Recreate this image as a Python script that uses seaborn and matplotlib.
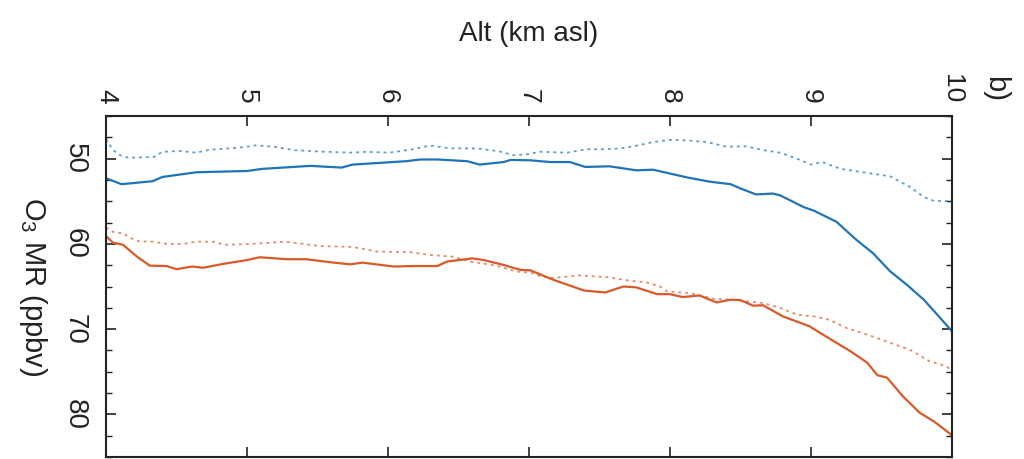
import matplotlib
matplotlib.use("Agg")
import matplotlib.pyplot as plt
from matplotlib.ticker import MultipleLocator
import seaborn as sns
import pandas as pd

# ---- data ----
alt_blue_solid = [4.00, 4.11, 4.33, 4.40, 4.64, 5.00, 5.11, 5.45, 5.67, 5.75, 6.13, 6.23, 6.35,
                  6.56, 6.65, 6.82, 6.87, 7.01, 7.15, 7.29, 7.40, 7.57, 7.76, 7.88, 8.12, 8.28,
                  8.43, 8.50, 8.61, 8.73, 8.78, 8.95, 9.02, 9.13, 9.18, 9.32, 9.44, 9.56, 9.68,
                  9.80, 9.89, 10.00]
o3_blue_solid = [52.3, 53.0, 52.65, 52.15, 51.6, 51.45, 51.2, 50.85, 51.05, 50.7, 50.3, 50.1, 50.1,
                 50.3, 50.7, 50.4, 50.15, 50.2, 50.4, 50.4, 50.98, 50.9, 51.37, 51.3, 52.2, 52.7,
                 53.0, 53.5, 54.2, 54.1, 54.3, 55.7, 56.1, 57.0, 57.4, 59.5, 61.1, 63.2, 64.8,
                 66.55, 68.2, 70.25]

alt_blue_dot = [4.00, 4.05, 4.10, 4.16, 4.34, 4.40, 4.52, 4.64, 4.74, 4.95, 5.06, 5.19, 5.33, 5.49,
                5.73, 5.85, 6.01, 6.16, 6.27, 6.32, 6.44, 6.63, 6.79, 6.89, 6.98, 7.08, 7.27, 7.41,
                7.53, 7.65, 7.74, 7.88, 8.00, 8.12, 8.26, 8.40, 8.54, 8.66, 8.78, 8.90, 9.00, 9.08,
                9.21, 9.37, 9.49, 9.56, 9.70, 9.80, 9.87, 10.00]
o3_blue_dot = [47.7, 49.0, 49.6, 49.9, 49.8, 49.2, 49.1, 49.3, 48.95, 48.7, 48.45, 48.6, 49.0, 49.15,
               49.3, 49.2, 49.3, 48.95, 48.56, 48.5, 48.8, 48.8, 49.15, 49.6, 49.5, 49.2, 49.3, 48.9,
               48.9, 48.8, 48.56, 48.06, 47.8, 47.86, 48.06, 48.6, 48.56, 49.0, 49.3, 50.0, 50.7, 50.4,
               51.2, 51.6, 51.9, 52.07, 53.3, 54.5, 54.95, 55.0]

alt_orange_solid = [4.00, 4.05, 4.12, 4.22, 4.31, 4.43, 4.50, 4.61, 4.69, 4.83, 5.00, 5.09, 5.28,
                    5.42, 5.59, 5.73, 5.82, 6.04, 6.18, 6.35, 6.42, 6.60, 6.68, 6.82, 6.94, 7.01,
                    7.17, 7.39, 7.54, 7.67, 7.76, 7.91, 8.00, 8.09, 8.21, 8.33, 8.43, 8.50, 8.59,
                    8.66, 8.80, 8.99, 9.11, 9.28, 9.40, 9.47, 9.54, 9.65, 9.77, 9.87, 10.00]
o3_orange_solid = [59.1, 59.86, 60.1, 61.5, 62.55, 62.6, 62.97, 62.66, 62.8, 62.35, 61.9, 61.57, 61.8,
                   61.8, 62.15, 62.4, 62.2, 62.66, 62.6, 62.6, 62.07, 61.7, 61.9, 62.47, 63.05, 63.1,
                   64.2, 65.47, 65.7, 65.0, 65.1, 65.9, 65.9, 66.24, 66.05, 66.87, 66.55, 66.6, 67.25,
                   67.2, 68.5, 69.67, 70.9, 72.6, 73.95, 75.4, 75.7, 77.85, 79.8, 80.8, 82.45]

alt_orange_dot = [4.00, 4.05, 4.12, 4.18, 4.24, 4.31, 4.43, 4.55, 4.64, 4.76, 4.84, 4.97, 5.14, 5.26,
                  5.42, 5.51, 5.75, 5.92, 6.16, 6.30, 6.46, 6.58, 6.77, 6.91, 7.01, 7.08, 7.17, 7.36,
                  7.55, 7.72, 7.83, 7.93, 7.98, 8.14, 8.31, 8.43, 8.66, 8.78, 8.90, 9.02, 9.13, 9.25,
                  9.42, 9.56, 9.70, 9.84, 9.96, 10.00]
o3_orange_dot = [58.06, 58.6, 58.76, 59.35, 59.74, 59.7, 60.0, 60.0, 59.74, 59.74, 60.1, 60.05, 59.9,
                 59.74, 60.05, 60.25, 60.36, 60.9, 60.98, 61.3, 61.5, 62.07, 62.55, 63.25, 63.36, 63.8,
                 64.0, 63.7, 63.9, 64.33, 64.5, 65.0, 65.58, 65.77, 66.44, 66.55, 66.94, 67.5, 68.3,
                 68.5, 68.9, 69.86, 70.76, 71.6, 72.4, 73.76, 74.35, 74.9]

x_ticks = [4, 5, 6, 7, 8, 9, 10]
y_ticks = [50, 60, 70, 80]
x_label = "Alt (km asl)"
y_label = r"O$_3$ MR (ppbv)"
panel_label = "b)"

BLUE = "#1f74b8"
ORANGE = "#d9592a"

sns.set_theme(style="white")
plt.rcParams["font.family"] = ["Liberation Sans", "DejaVu Sans"]
plt.rcParams["mathtext.fontset"] = "custom"
plt.rcParams["mathtext.rm"] = "Liberation Sans"
plt.rcParams["mathtext.it"] = "Liberation Sans"

fig = plt.figure(figsize=(10.24, 4.59), dpi=100)
ax = fig.add_axes([106 / 1024, 1 - 457 / 459, 846 / 1024, (457 - 116) / 459])

def df(a, v):
    return pd.DataFrame({"alt": a, "o3": v})

sns.lineplot(data=df(alt_blue_dot, o3_blue_dot), x="alt", y="o3", ax=ax, color=BLUE,
             linewidth=1.3, alpha=0.7, sort=False)
sns.lineplot(data=df(alt_orange_dot, o3_orange_dot), x="alt", y="o3", ax=ax, color=ORANGE,
             linewidth=1.3, alpha=0.7, sort=False)
sns.lineplot(data=df(alt_blue_solid, o3_blue_solid), x="alt", y="o3", ax=ax, color=BLUE,
             linewidth=1.6, sort=False)
sns.lineplot(data=df(alt_orange_solid, o3_orange_solid), x="alt", y="o3", ax=ax, color=ORANGE,
             linewidth=1.6, sort=False)
for ln in ax.lines[:2]:
    ln.set_linestyle((0, (1.6, 2.2)))

ax.set_xlim(4, 10)
ax.set_ylim(85, 45)
ax.set_xticks(x_ticks)
ax.set_yticks(y_ticks)
ax.yaxis.set_minor_locator(MultipleLocator(2.5))

ax.xaxis.set_ticks_position("both")
ax.xaxis.set_label_position("top")
ax.tick_params(axis="x", which="both", direction="in", top=True, bottom=True,
               labeltop=True, labelbottom=False, length=7, width=1.2, labelsize=19,
               labelrotation=-90, pad=9, colors="#222222", labelcolor="#222222")
ax.tick_params(axis="y", which="major", direction="in", left=True, right=True,
               length=7, width=1.2, labelsize=20, labelrotation=-90, pad=13,
               colors="#222222", labelcolor="#222222")
ax.tick_params(axis="y", which="minor", direction="in", left=True, right=True,
               length=4, width=1.0, colors="#222222")
for lab in ax.get_yticklabels():
    lab.set_verticalalignment("center")
for lab in ax.get_xticklabels():
    lab.set_horizontalalignment("center")

for s in ax.spines.values():
    s.set_linewidth(1.5)
    s.set_color("#222222")

ax.set_xlabel(x_label, fontsize=20, labelpad=24, color="#222222")
ax.set_ylabel(y_label, fontsize=21, rotation=-90, color="#222222", va="center", ha="center")
ax.yaxis.set_label_coords(-0.086, 0.5)

fig.text(995 / 1024, 1 - 89 / 459, panel_label, fontsize=21, rotation=-90,
         ha="center", va="center", color="#222222")

fig.savefig("out.png", dpi=100, facecolor="white")
